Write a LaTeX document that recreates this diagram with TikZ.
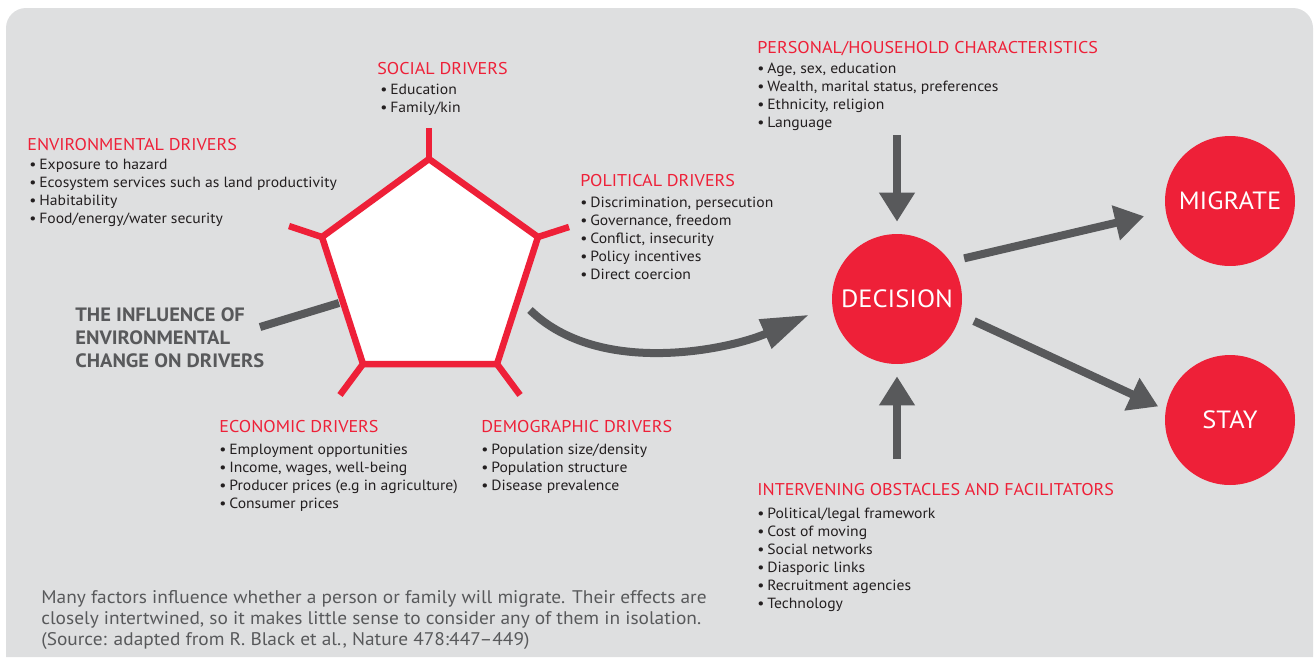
\documentclass[tikz,border=0pt]{standalone}
\usepackage{fontspec}
\setmainfont[FakeStretch=1.06]{PT Sans}
\usetikzlibrary{arrows.meta}
\definecolor{bg}{HTML}{DEDFE0}
\definecolor{dred}{HTML}{EE2038}
\definecolor{agray}{HTML}{58595B}
\definecolor{txt}{HTML}{231F20}
\newcommand{\bul}{\makebox[0.2cm][l]{•}}
\begin{document}
\begin{tikzpicture}[x=0.02cm,y=-0.02cm,
  ttl/.style={anchor=base west, inner sep=0, text=dred, font=\fontsize{9.7}{11}\selectfont},
  itm/.style={anchor=base west, inner sep=0, text=txt, font=\fontsize{8.4}{10}\selectfont},
  infl/.style={anchor=base west, inner sep=0, text=agray, font=\fontsize{11}{13}\selectfont\bfseries},
  capt/.style={anchor=base west, inner sep=0, text=agray, font=\fontsize{10.4}{12}\selectfont},
  bigc/.style={circle, fill=dred, draw=none, minimum size=2.6cm, inner sep=0, text=white, font=\fontsize{14.2}{16}\selectfont},
  redline/.style={draw=dred, line width=0.13cm},
  garrow/.style={draw=agray, line width=0.16cm, -{Triangle[length=0.58cm,width=0.68cm]}},
  gline/.style={draw=agray, line width=0.16cm}]
\useasboundingbox (0,0) rectangle (1314,657);
% background panel
\fill[bg] (6,657) -- (6,28) arc[start angle=180, end angle=90, radius=0.4cm] -- (1293,8) arc[start angle=90, end angle=0, radius=0.4cm] -- (1313,657) -- cycle;

% pentagon
\coordinate (pT) at (429,159);
\coordinate (pUR) at (538,237);
\coordinate (pLR) at (497,364);
\coordinate (pLL) at (363,364);
\coordinate (pUL) at (322,237);
\coordinate (sT) at (429,128);
\coordinate (sUR) at (569,227);
\coordinate (sLR) at (520,395);
\coordinate (sLL) at (340,395);
\coordinate (sUL) at (289,226);
\filldraw[redline, fill=white, line join=miter] (pT) -- (pUR) -- (pLR) -- (pLL) -- (pUL) -- cycle;
\draw[redline] (pT) -- (sT);
\draw[redline] (pUR) -- (sUR);
\draw[redline] (pLR) -- (sLR);
\draw[redline] (pLL) -- (sLL);
\draw[redline] (pUL) -- (sUL);

% circles
\node[bigc] (decision) at (897,299) {DECISION};
\node[bigc] (migrate) at (1230,201) {MIGRATE};
\node[bigc] (stay) at (1230,420) {STAY};

% text groups
\node[ttl] (envT) at (27,150) {ENVIRONMENTAL DRIVERS};
\foreach \t [count=\k] in {Exposure to hazard, Ecosystem services such as land productivity, Habitability, Food/energy/water security}
  \node[itm] (envI\k) at (29,{169+(\k-1)*18}) {\bul\t};

\node[ttl] (socT) at (377,74) {SOCIAL DRIVERS};
\foreach \t [count=\k] in {Education, Family/kin}
  \node[itm] (socI\k) at (380,{94+(\k-1)*18}) {\bul\t};

\node[ttl] (polT) at (580,186) {POLITICAL DRIVERS};
\foreach \t [count=\k] in {{Discrimination, persecution}, {Governance, freedom}, {Conflict, insecurity}, Policy incentives, Direct coercion}
  \node[itm] (polI\k) at (580,{207+(\k-1)*18}) {\bul\t};

\node[ttl] (perT) at (757,53) {PERSONAL/HOUSEHOLD CHARACTERISTICS};
\foreach \t [count=\k] in {{Age, sex, education}, {Wealth, marital status, preferences}, {Ethnicity, religion}, Language}
  \node[itm] (perI\k) at (757,{73+(\k-1)*18}) {\bul\t};

\node[ttl] (ecoT) at (219,432) {ECONOMIC DRIVERS};
\foreach \t [count=\k] in {Employment opportunities, {Income, wages, well-being}, Producer prices (e.g in agriculture), Consumer prices}
  \node[itm] (ecoI\k) at (219,{454+(\k-1)*18}) {\bul\t};

\node[ttl] (demT) at (481,432) {DEMOGRAPHIC DRIVERS};
\foreach \t [count=\k] in {Population size/density, Population structure, Disease prevalence}
  \node[itm] (demI\k) at (481,{454+(\k-1)*18}) {\bul\t};

\node[ttl] (intT) at (757,495) {INTERVENING OBSTACLES AND FACILITATORS};
\foreach \t [count=\k] in {Political/legal framework, Cost of moving, Social networks, Diasporic links, Recruitment agencies, Technology}
  \node[itm] (intI\k) at (757,{518+(\k-1)*18}) {\bul\t};

% influence text
\node[infl] (inf1) at (75,321) {THE INFLUENCE OF};
\node[infl] (inf2) at (75,344) {ENVIRONMENTAL};
\node[infl] (inf3) at (75,367) {CHANGE ON DRIVERS};

% caption
\node[capt] (cap1) at (41,603) {Many factors influence whether a person or family will migrate. Their effects are};
\node[capt] (cap2) at (41,624) {closely intertwined, so it makes little sense to consider any of them in isolation.};
\node[capt] (cap3) at (41,645) {(Source: adapted from R. Black et al., Nature 478:447–449)};

% connectors
\coordinate (i1) at (260,327);
\coordinate (i2) at (339,303);
\draw[gline] (i1) -- (i2);

\coordinate (cstart) at (530,310);
\draw[draw=agray, line width=0.16cm, -{Triangle[length=0.96cm,width=0.6cm]}, shorten >=0.5cm]
  (cstart) .. controls (600,378) and (731,349) .. (decision.185);

\coordinate (pA) at (897,135);
\draw[garrow, shorten >=0.24cm] (pA) -- (decision.north);
\coordinate (pB) at (897,459);
\draw[garrow, shorten >=0.24cm] (pB) -- (decision.south);

\draw[garrow, shorten <=0.28cm, shorten >=0.44cm] (decision.35) -- (migrate.189);
\draw[garrow, shorten <=0.3cm, shorten >=0.16cm] (decision.-14) -- (stay.171);
\end{tikzpicture}
\end{document}
